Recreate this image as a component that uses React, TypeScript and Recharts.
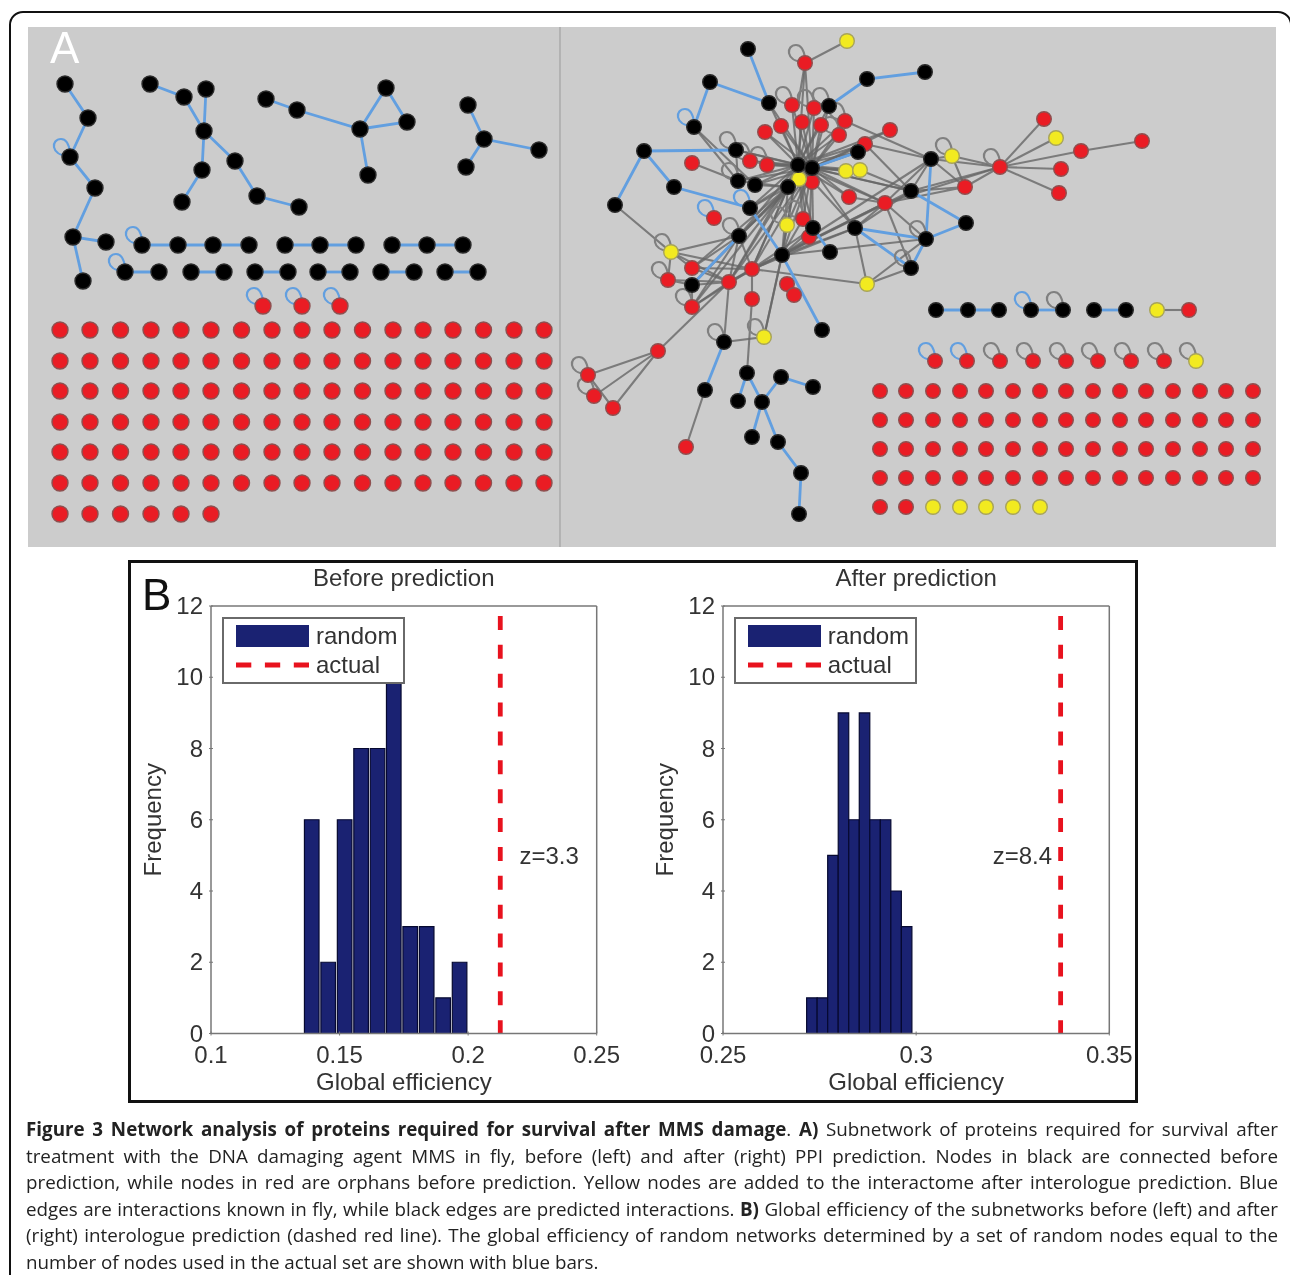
import {
  Bar,
  BarChart,
  Legend,
  ReferenceDot,
  ReferenceLine,
  Scatter,
  ScatterChart,
  XAxis,
  YAxis,
} from 'recharts'

type Pt = number[]

// ---- panel B: histograms ----
const frequencyTicks = [0, 2, 4, 6, 8, 10, 12]

const beforeTicks = [0.1, 0.15, 0.2, 0.25]
const beforeBins = [0.1391, 0.1455, 0.1519, 0.1583, 0.1647, 0.171, 0.1774, 0.1838, 0.1902, 0.1966]
const beforeCounts = [6, 2, 6, 8, 8, 10, 3, 3, 1, 2]
const beforeActual = 0.2125

const afterTicks = [0.25, 0.3, 0.35]
const afterBins = [0.27301, 0.27574, 0.27846, 0.28119, 0.28391, 0.28664, 0.28936, 0.29209, 0.29481, 0.29754]
const afterCounts = [1, 1, 5, 9, 6, 9, 6, 6, 4, 3]
const afterActual = 0.3374

// ---- panel A: network layout, in picture units ----
const leftBlack: Pt[] = [
  [65, 84], [88, 118], [70, 157], [95, 188], [73, 237], [106, 242], [83, 281],
  [150, 84], [184, 97], [206, 89], [204, 131], [202, 170], [182, 202], [235, 161], [257, 196], [299, 207],
  [266, 99], [297, 110], [360, 129], [386, 88], [407, 122], [368, 175],
  [468, 105], [484, 139], [539, 150], [466, 167],
  [142, 245], [178, 245], [213, 245], [249, 245], [285, 245], [320, 245], [356, 245], [392, 245], [427, 245], [463, 245],
  [125, 272], [159, 272], [191, 272], [224, 272], [255, 272], [288, 272], [318, 272], [350, 272], [381, 272], [414, 272], [445, 272], [478, 272],
]
const leftBlue: Pt[][] = [
  [[65, 84], [88, 118], [70, 157], [95, 188], [73, 237], [106, 242]],
  [[73, 237], [83, 281]],
  [[150, 84], [184, 97], [204, 131], [202, 170], [182, 202]],
  [[206, 89], [204, 131], [235, 161], [257, 196], [299, 207]],
  [[266, 99], [297, 110], [360, 129], [386, 88], [407, 122], [360, 129], [368, 175]],
  [[468, 105], [484, 139], [539, 150]],
  [[484, 139], [466, 167]],
  [[142, 245], [249, 245]],
  [[285, 245], [356, 245]],
  [[392, 245], [463, 245]],
  [[125, 272], [159, 272]],
  [[191, 272], [224, 272]],
  [[255, 272], [288, 272]],
  [[318, 272], [350, 272]],
  [[381, 272], [414, 272]],
  [[445, 272], [478, 272]],
]
const leftLooped: Pt[] = [[263, 306], [302, 306], [340, 306]]
const leftLoops: Pt[] = [[70, 157], [142, 245], [125, 272], ...leftLooped]

const leftGridX = [60, 90, 120.5, 151, 181, 211, 241.5, 272, 302, 332, 362.5, 393, 423, 453, 483.5, 514, 544]
const leftGridY = [330, 361, 391, 422, 452, 483]
const leftLastRowX = [60, 90, 120.5, 151, 181, 211]
const leftLastRowY = 514

const rightBlack: Pt[] = [
  [748, 49], [710, 82], [769, 103], [829, 106], [867, 79], [925, 72], [694, 127], [644, 151], [736, 150],
  [798, 165], [812, 168], [858, 152], [738, 181], [755, 185], [788, 187], [674, 187], [615, 205], [750, 208],
  [739, 236], [813, 228], [855, 228], [782, 255], [830, 252], [692, 285], [822, 330], [931, 159], [911, 191],
  [966, 223], [926, 239], [911, 268], [724, 342], [705, 390], [747, 373], [781, 377], [813, 387], [738, 401],
  [762, 402], [752, 437], [778, 442], [801, 473], [799, 514],
  [936, 310], [968, 310], [999, 310], [1031, 310], [1063, 310], [1094, 310], [1126, 310],
]
const rightRed: Pt[] = [
  [805, 63], [792, 105], [814, 108], [845, 121], [802, 122], [821, 125], [781, 126], [765, 132], [839, 135],
  [865, 144], [890, 130], [692, 163], [750, 161], [767, 165], [812, 182], [849, 197], [714, 218], [803, 219],
  [809, 237], [692, 268], [752, 269], [668, 280], [729, 282], [692, 307], [752, 299], [787, 284], [794, 295],
  [885, 203], [965, 187], [1000, 167], [1044, 119], [1081, 151], [1142, 141], [1061, 169], [1059, 193],
  [658, 351], [588, 375], [594, 396], [613, 408], [686, 447], [1189, 310],
  [935, 361], [967, 361], [1000, 361], [1033, 361], [1066, 361], [1098, 361], [1131, 361], [1164, 361],
]
const rightYellow: Pt[] = [
  [847, 41], [799, 179], [846, 171], [860, 170], [787, 225], [671, 252], [764, 337], [867, 284], [952, 156], [1056, 138],
  [1157, 310], [1196, 361],
]
const rightBlue: Pt[][] = [
  [[748, 49], [769, 103], [710, 82], [694, 127]],
  [[736, 150], [644, 151], [615, 205]],
  [[644, 151], [674, 187], [750, 208], [782, 255], [822, 330]],
  [[813, 228], [830, 252]],
  [[739, 236], [692, 285]],
  [[858, 152], [812, 168]],
  [[829, 106], [867, 79], [925, 72]],
  [[931, 159], [926, 239], [966, 223], [911, 191]],
  [[855, 228], [926, 239], [911, 268], [855, 228]],
  [[724, 342], [705, 390]],
  [[738, 401], [747, 373], [762, 402], [781, 377], [813, 387]],
  [[762, 402], [752, 437]],
  [[762, 402], [778, 442], [801, 473], [799, 514]],
  [[936, 310], [999, 310]],
  [[1031, 310], [1063, 310]],
  [[1094, 310], [1126, 310]],
]
const hubA: Pt = [798, 165]
const hubB: Pt = [812, 168]
const hubLeaves: Pt[] = [
  [792, 105], [814, 108], [829, 106], [845, 121], [802, 122], [821, 125], [781, 126], [765, 132], [839, 135],
  [769, 103], [805, 63], [767, 165], [750, 161], [736, 150], [738, 181], [755, 185], [858, 152], [846, 171],
  [860, 170], [865, 144], [849, 197], [885, 203], [911, 191], [855, 228], [803, 219], [813, 228], [787, 225],
  [782, 255], [752, 269], [739, 236], [750, 208], [809, 237], [729, 282], [788, 187], [890, 130],
]
const lowerHub: Pt = [788, 187]
const lowerLeaves: Pt[] = [
  [739, 236], [750, 208], [752, 269], [782, 255], [729, 282], [692, 268], [692, 307], [738, 181], [755, 185], [692, 285],
]
const midHub: Pt = [782, 255]
const midLeaves: Pt[] = [
  [752, 269], [729, 282], [787, 225], [803, 219], [813, 228], [855, 228], [885, 203], [911, 191], [931, 159], [926, 239], [764, 337],
]
const sideHub: Pt = [1000, 167]
const sideLeaves: Pt[] = [
  [885, 203], [911, 191], [931, 159], [952, 156], [965, 187], [1044, 119], [1056, 138], [1081, 151], [1061, 169], [1059, 193],
]
const rightGrey: Pt[][] = [
  [[847, 41], [805, 63], [798, 105]],
  [[694, 127], [738, 181], [692, 163]],
  [[694, 127], [755, 185]],
  [[736, 150], [738, 181]],
  [[615, 205], [671, 252], [739, 236], [752, 269], [671, 252], [692, 268], [752, 269]],
  [[671, 252], [729, 282]],
  [[671, 252], [668, 280], [692, 285], [729, 282], [668, 280]],
  [[692, 268], [729, 282], [739, 236], [692, 268]],
  [[692, 307], [739, 236]],
  [[692, 307], [752, 269]],
  [[692, 307], [692, 285]],
  [[692, 307], [729, 282], [752, 269]],
  [[739, 236], [692, 285]],
  [[658, 351], [729, 282]],
  [[588, 375], [658, 351], [594, 396]],
  [[658, 351], [613, 408], [588, 375]],
  [[729, 282], [724, 342], [764, 337], [782, 255]],
  [[747, 373], [752, 299], [752, 269]],
  [[705, 390], [686, 447]],
  [[752, 269], [867, 284]],
  [[752, 269], [813, 228]],
  [[752, 269], [855, 228]],
  [[752, 269], [885, 203]],
  [[1081, 151], [1142, 141]],
  [[931, 159], [952, 156], [965, 187], [931, 159], [911, 191], [965, 187], [885, 203], [931, 159]],
  [[885, 203], [926, 239]],
  [[885, 203], [911, 268]],
  [[885, 203], [855, 228], [867, 284], [911, 268]],
  [[867, 284], [926, 239]],
  [[865, 144], [931, 159]],
  [[845, 121], [931, 159]],
  [[865, 144], [911, 191]],
  [[860, 170], [911, 191]],
  [[855, 228], [911, 191]],
  [[849, 197], [885, 203]],
  [[1157, 310], [1189, 310]],
]
const rightBlueLoops: Pt[] = [[694, 127], [714, 218], [750, 208], [1031, 310], [935, 361], [967, 361]]
const rightGreyLoops: Pt[] = [
  [805, 63], [792, 105], [814, 108], [829, 106], [845, 121], [839, 135], [736, 150], [750, 161], [767, 165], [738, 181],
  [739, 236], [671, 252], [668, 280], [692, 307], [803, 219], [787, 225], [724, 342], [764, 337], [588, 375], [594, 396],
  [952, 156], [1000, 167], [926, 239], [911, 268], [1063, 310],
  [1000, 361], [1033, 361], [1066, 361], [1098, 361], [1131, 361], [1164, 361], [1196, 361],
]

const rightGridX = [880, 906, 933, 960, 986, 1013, 1040, 1066, 1093, 1120, 1146, 1173, 1200, 1226, 1253]
const rightGridY = [391, 420, 449, 478]
const rightLastRedX = [880, 906]
const rightLastYellowX = [933, 960, 986, 1013, 1040]
const rightLastRowY = 507

const captionLines = [
  [
    ['Figure 3 Network analysis of proteins required for survival after MMS damage', true],
    ['. ', false],
    ['A)', true],
    [' Subnetwork of proteins required for survival after', false],
  ],
  [['treatment with the DNA damaging agent MMS in fly, before (left) and after (right) PPI prediction. Nodes in black are connected before', false]],
  [['prediction, while nodes in red are orphans before prediction. Yellow nodes are added to the interactome after interologue prediction. Blue', false]],
  [
    ['edges are interactions known in fly, while black edges are predicted interactions. ', false],
    ['B)', true],
    [' Global efficiency of the subnetworks before (left) and after', false],
  ],
  [['(right) interologue prediction (dashed red line). The global efficiency of random networks determined by a set of random nodes equal to the', false]],
  [['number of nodes used in the actual set are shown with blue bars.', false]],
]

const SANS = '"Liberation Sans", Arial, sans-serif'
const BLUE_EDGE = '#629fe0'
const GREY_EDGE = '#666'
const NAVY = '#1a2272'
const DASH_RED = '#e8121e'
const TEXT = '#333'
const AXIS = '#777'

const toPts = (line: Pt[]) => line.map(([x, y]) => ({ x, y }))
const fan = (hub: Pt, leaves: Pt[]): Pt[][] => leaves.map((leaf) => [hub, leaf])
const grid = (xs: number[], ys: number[]): Pt[] => ys.flatMap((y) => xs.map((x) => [x, y]))

const greyEdges = [
  ...fan(hubA, hubLeaves),
  ...fan(hubB, hubLeaves),
  ...fan(lowerHub, lowerLeaves),
  ...fan(midHub, midLeaves),
  ...fan(sideHub, sideLeaves),
  ...rightGrey,
]
const blueEdges = [...leftBlue, ...rightBlue]
const redNodes: Pt[] = [
  ...leftLooped,
  ...grid(leftGridX, leftGridY),
  ...leftLastRowX.map((x) => [x, leftLastRowY]),
  ...rightRed,
  ...grid(rightGridX, rightGridY),
  ...rightLastRedX.map((x) => [x, rightLastRowY]),
]
const yellowNodes: Pt[] = [...rightYellow, ...rightLastYellowX.map((x) => [x, rightLastRowY])]

const hiddenPoint = () => <g />

const nodeShape = (fill: string, stroke: string) => (p: any) => {
  const r = p.cx < 532 ? 8 : 7.3
  return <circle cx={p.cx} cy={p.cy} r={r} fill={fill} stroke={stroke} strokeWidth={1.4} />
}

const loopShape = (stroke: string) => (p: any) => {
  const { cx, cy } = p
  return (
    <path
      d={`M ${cx - 2} ${cy - 1} C ${cx - 20} ${cy - 2}, ${cx - 19} ${cy - 18}, ${cx - 9} ${cy - 18} C ${cx - 3} ${cy - 18}, ${cx - 1} ${cy - 12}, ${cx} ${cy - 5}`}
      fill="none"
      stroke={stroke}
      strokeWidth={2.2}
    />
  )
}

function NetworkPanel() {
  return (
    <ScatterChart width={1248} height={520} margin={{ top: 0, right: 0, bottom: 0, left: 0 }}>
      <XAxis type="number" dataKey="x" domain={[28, 1276]} hide />
      <YAxis type="number" dataKey="y" domain={[27, 547]} reversed hide />
      <ReferenceLine x={560} stroke="#999" strokeWidth={1} />
      {greyEdges.map((line, i) => (
        <Scatter
          key={`g${i}`}
          data={toPts(line)}
          line={{ stroke: GREY_EDGE, strokeWidth: 2.1, strokeOpacity: 0.8 }}
          shape={hiddenPoint}
          isAnimationActive={false}
        />
      ))}
      {blueEdges.map((line, i) => (
        <Scatter
          key={`b${i}`}
          data={toPts(line)}
          line={{ stroke: BLUE_EDGE, strokeWidth: 2.8 }}
          shape={hiddenPoint}
          isAnimationActive={false}
        />
      ))}
      <Scatter data={toPts([...leftLoops, ...rightBlueLoops])} shape={loopShape(BLUE_EDGE)} isAnimationActive={false} />
      <Scatter data={toPts(rightGreyLoops)} shape={loopShape('#808080')} isAnimationActive={false} />
      <Scatter data={toPts(redNodes)} shape={nodeShape('#ea1c24', '#8e5050')} isAnimationActive={false} />
      <Scatter data={toPts(yellowNodes)} shape={nodeShape('#f2ea20', '#a8a45a')} isAnimationActive={false} />
      <Scatter data={toPts([...leftBlack, ...rightBlack])} shape={nodeShape('#000', '#2a2a2a')} isAnimationActive={false} />
    </ScatterChart>
  )
}

const HistLegend = () => (
  <div
    style={{
      position: 'relative',
      width: 183,
      height: 67,
      boxSizing: 'border-box',
      background: '#fff',
      border: '2px solid #6a6a6a',
      fontFamily: SANS,
      fontSize: 24,
      color: TEXT,
    }}
  >
    <div style={{ position: 'absolute', left: 12, top: 6, width: 73, height: 22, background: NAVY }} />
    <div style={{ position: 'absolute', left: 92, top: 2, lineHeight: '30px' }}>random</div>
    <svg style={{ position: 'absolute', left: 12, top: 43 }} width={73} height={6}>
      <line x1={0} x2={73} y1={3} y2={3} stroke={DASH_RED} strokeWidth={5} strokeDasharray="15.3 13.6" />
    </svg>
    <div style={{ position: 'absolute', left: 92, top: 31, lineHeight: '30px' }}>actual</div>
  </div>
)

const xTick = (p: any) => (
  <g>
    <line x1={p.x} x2={p.x} y1={p.y} y2={p.y - 4} stroke={AXIS} />
    <text x={p.x} y={p.y + 27} textAnchor="middle" fontSize={24} fill={TEXT} fontFamily={SANS}>
      {p.payload.value}
    </text>
  </g>
)

const yTick = (p: any) => (
  <g>
    <line x1={p.x} x2={p.x + 4} y1={p.y} y2={p.y} stroke={AXIS} />
    <text x={p.x - 6} y={p.y + 8} textAnchor="end" fontSize={24} fill={TEXT} fontFamily={SANS}>
      {p.payload.value}
    </text>
  </g>
)

interface HistogramProps {
  title: string
  bins: number[]
  counts: number[]
  ticks: number[]
  actual: number
  zLabel: string
  zAt: number
  barWidth: number
  marginRight: number
}

function Histogram({ title, bins, counts, ticks, actual, zLabel, zAt, barWidth, marginRight }: HistogramProps) {
  const rows = bins.map((bin, i) => ({ bin, count: counts[i] }))
  const domain = [ticks[0], ticks[ticks.length - 1]]
  const labelStyle = { fontSize: 24, fill: TEXT, fontFamily: SANS }
  return (
    <BarChart width={500} height={538} data={rows} margin={{ top: 44, right: marginRight, bottom: 0, left: 0 }}>
      <XAxis
        type="number"
        dataKey="bin"
        domain={domain}
        ticks={ticks}
        interval={0}
        height={66.5}
        tickSize={0}
        tickLine={false}
        tick={xTick}
        stroke={AXIS}
        strokeWidth={1.5}
        label={{ value: 'Global efficiency', position: 'center', dy: 15, ...labelStyle }}
      />
      <XAxis
        xAxisId="top"
        orientation="top"
        type="number"
        domain={domain}
        ticks={ticks}
        interval={0}
        mirror
        tick={false}
        tickSize={4}
        stroke={AXIS}
        strokeWidth={1.5}
        label={{ value: title, position: 'top', offset: 20, ...labelStyle }}
      />
      <YAxis
        type="number"
        domain={[0, 12]}
        ticks={frequencyTicks}
        interval={0}
        width={81}
        tickSize={0}
        tickLine={false}
        tick={yTick}
        stroke={AXIS}
        strokeWidth={1.5}
        label={{ value: 'Frequency', angle: -90, position: 'center', dx: -18.5, ...labelStyle }}
      />
      <YAxis
        yAxisId="right"
        orientation="right"
        type="number"
        domain={[0, 12]}
        ticks={frequencyTicks}
        interval={0}
        mirror
        tick={false}
        tickSize={4}
        stroke={AXIS}
        strokeWidth={1.5}
      />
      <Bar dataKey="count" name="random" fill={NAVY} stroke="#060930" strokeWidth={1.2} barSize={barWidth} isAnimationActive={false} />
      <ReferenceLine
        segment={[
          { x: actual, y: 11.72 },
          { x: actual, y: 0 },
        ]}
        stroke={DASH_RED}
        strokeWidth={4.8}
        strokeDasharray="14 14.87"
      />
      <ReferenceDot x={zAt} y={5} r={0} fill="none" stroke="none" label={{ value: zLabel, position: 'center', ...labelStyle }} />
      <Legend
        layout="horizontal"
        align="center"
        verticalAlign="middle"
        width={183}
        content={<HistLegend />}
        wrapperStyle={{ left: 92, top: 55, width: 183 }}
      />
    </BarChart>
  )
}

export default function App() {
  return (
    <div
      style={{
        position: 'absolute',
        left: 0,
        top: 0,
        width: 1290,
        height: 1275,
        overflow: 'hidden',
        background: '#fff',
        filter: 'blur(0.4px)',
      }}
    >
      <div
        style={{
          position: 'absolute',
          left: 9,
          top: 11,
          width: 1279,
          height: 1400,
          border: '2px solid #111',
          borderRadius: 14,
        }}
      />

      <div style={{ position: 'absolute', left: 28, top: 27, width: 1248, height: 520, background: '#cccccc' }}>
        <NetworkPanel />
        <div
          style={{
            position: 'absolute',
            left: 22,
            top: -3,
            color: '#fff',
            fontFamily: SANS,
            fontSize: 44,
            lineHeight: '48px',
          }}
        >
          A
        </div>
      </div>

      <div
        style={{
          position: 'absolute',
          left: 128,
          top: 560,
          width: 1010,
          height: 543,
          boxSizing: 'border-box',
          border: '3px solid #111',
          background: '#fff',
        }}
      />
      <div style={{ position: 'absolute', left: 142, top: 571, fontFamily: SANS, fontSize: 44, lineHeight: '48px', color: '#111' }}>
        B
      </div>
      <div style={{ position: 'absolute', left: 130, top: 562 }}>
        <Histogram
          title="Before prediction"
          bins={beforeBins}
          counts={beforeCounts}
          ticks={beforeTicks}
          actual={beforeActual}
          zLabel="z=3.3"
          zAt={0.2315}
          barWidth={16.4}
          marginRight={33.3}
        />
      </div>
      <div style={{ position: 'absolute', left: 641.7, top: 562 }}>
        <Histogram
          title="After prediction"
          bins={afterBins}
          counts={afterCounts}
          ticks={afterTicks}
          actual={afterActual}
          zLabel="z=8.4"
          zAt={0.3275}
          barWidth={10.5}
          marginRight={32.7}
        />
      </div>

      <div style={{ position: 'absolute', left: 26, top: 1116, width: 1252, fontFamily: '"Open Sans", sans-serif', fontSize: 18.8, color: '#222' }}>
        {captionLines.map((line, i) => (
          <div
            key={i}
            style={{
              height: 26.5,
              lineHeight: '26.5px',
              whiteSpace: 'nowrap',
              textAlign: 'justify',
              textAlignLast: i === captionLines.length - 1 ? 'left' : 'justify',
            }}
          >
            {line.map(([text, bold], j) => (
              <span key={j} style={{ fontWeight: bold ? 700 : 400 }}>
                {text as string}
              </span>
            ))}
          </div>
        ))}
      </div>
    </div>
  )
}
